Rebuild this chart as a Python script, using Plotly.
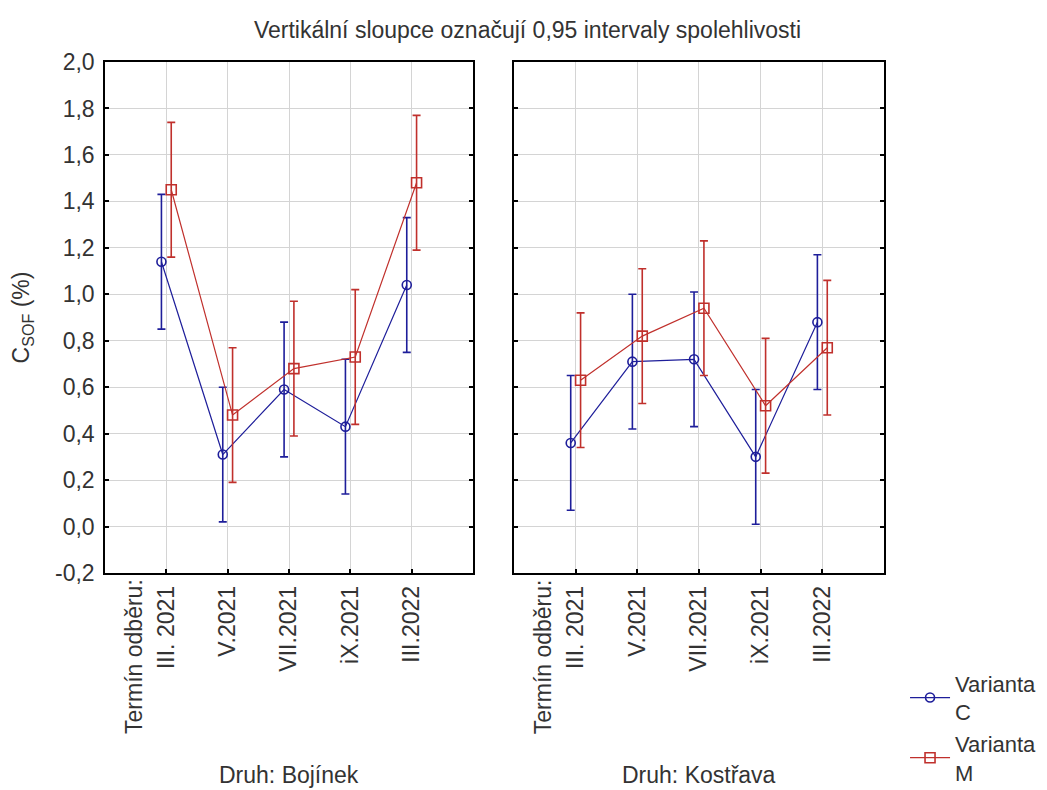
import plotly.graph_objects as go

terms = ["III. 2021", "V.2021", "VII.2021", "iX.2021", "III.2022"]
species = ["Druh: Bojínek", "Druh: Kostřava"]
yticks = [-0.2, 0.0, 0.2, 0.4, 0.6, 0.8, 1.0, 1.2, 1.4, 1.6, 1.8, 2.0]

# means, per species panel
bojinek_c = [1.14, 0.31, 0.59, 0.43, 1.04]
bojinek_m = [1.45, 0.48, 0.68, 0.73, 1.48]
kostrava_c = [0.36, 0.71, 0.72, 0.30, 0.88]
kostrava_m = [0.63, 0.82, 0.94, 0.52, 0.77]

# half widths of the 0.95 confidence intervals
bojinek_c_ci = [0.29, 0.29, 0.29, 0.29, 0.29]
bojinek_m_ci = [0.29, 0.29, 0.29, 0.29, 0.29]
kostrava_c_ci = [0.29, 0.29, 0.29, 0.29, 0.29]
kostrava_m_ci = [0.29, 0.29, 0.29, 0.29, 0.29]

BLUE = "#1e1e9a"
RED = "#c0302c"
TXT = "#333333"
FONT = "Liberation Sans, Arial, sans-serif"

fig = go.Figure()

panels = [
    ("x", "y", bojinek_c, bojinek_c_ci, bojinek_m, bojinek_m_ci, True),
    ("x2", "y2", kostrava_c, kostrava_c_ci, kostrava_m, kostrava_m_ci, False),
]
pos = list(range(len(terms)))
for xa, ya, c_vals, c_ci, m_vals, m_ci, show in panels:
    fig.add_trace(go.Scatter(
        x=[p - 0.08 for p in pos], y=c_vals, xaxis=xa, yaxis=ya,
        mode="lines+markers", name="Varianta<br>C", showlegend=show,
        line=dict(color=BLUE, width=1.2),
        marker=dict(symbol="circle-open", size=9, color=BLUE, line=dict(width=1.6, color=BLUE)),
        error_y=dict(type="data", array=c_ci, color=BLUE, thickness=1.6, width=4),
    ))
    fig.add_trace(go.Scatter(
        x=[p + 0.08 for p in pos], y=m_vals, xaxis=xa, yaxis=ya,
        mode="lines+markers", name="Varianta<br>M", showlegend=show,
        line=dict(color=RED, width=1.2),
        marker=dict(symbol="square-open", size=10, color=RED, line=dict(width=1.6, color=RED)),
        error_y=dict(type="data", array=m_ci, color=RED, thickness=1.6, width=4),
    ))

xcommon = dict(
    range=[-1, 5], tickvals=pos, ticktext=terms, tickangle=-90, ticklabelstandoff=2,
    showgrid=True, gridcolor="#d4d4d4", gridwidth=1, zeroline=False,
    showline=True, linecolor="black", linewidth=1.5, mirror=True,
    ticks="inside", ticklen=4, tickcolor="black", tickwidth=1.5,
    tickfont=dict(size=23, color=TXT),
)
ycommon = dict(
    range=[-0.2, 2.0], tickvals=yticks,
    ticktext=[f"{v:.1f}".replace(".", ",") for v in yticks],
    showgrid=True, gridcolor="#d4d4d4", gridwidth=1, zeroline=False,
    showline=True, linecolor="black", linewidth=1.5, mirror="ticks",
    ticks="inside", ticklen=4, tickcolor="black", tickwidth=1.5,
    tickfont=dict(size=23, color=TXT),
)

fig.update_layout(
    width=1039, height=782,
    font=dict(family=FONT, size=23, color=TXT),
    paper_bgcolor="white", plot_bgcolor="white",
    margin=dict(l=97, r=163, t=54, b=217, autoexpand=False),
    title=dict(text="Vertikální sloupce označují 0,95 intervaly spolehlivosti",
               x=0.5, xanchor="center", y=0.972, yanchor="middle",
               font=dict(size=23, color=TXT)),
    xaxis=dict(domain=[0, 0.4724], anchor="y", **xcommon),
    xaxis2=dict(domain=[0.525, 1], anchor="y2", **xcommon),
    yaxis=dict(anchor="x", ticklabelstandoff=4,
               title=dict(text="C<sub>SOF</sub> (%)", standoff=22, font=dict(size=23)),
               **ycommon),
    yaxis2=dict(anchor="x2", matches="y", showticklabels=False, **ycommon),
    legend=dict(x=1.027, y=-0.175, xanchor="left", yanchor="top",
                font=dict(size=22, color=TXT), bgcolor="rgba(0,0,0,0)",
                itemwidth=40, tracegroupgap=0),
    showlegend=True,
)

# panel captions and the leading "Termín odběru:" label
for xref, name in [("x", species[0]), ("x2", species[1])]:
    fig.add_annotation(text=name, xref=xref + " domain", yref="paper",
                       x=0.5, y=-0.395, xanchor="center", yanchor="middle",
                       showarrow=False, font=dict(size=23, color=TXT))
    fig.add_annotation(text="Termín odběru:", xref=xref, yref="paper",
                       x=pos[0], xshift=-33, y=-0.008, xanchor="center", yanchor="top",
                       textangle=-90, showarrow=False,
                       font=dict(size=23, color=TXT))

fig.write_html("out.html")
